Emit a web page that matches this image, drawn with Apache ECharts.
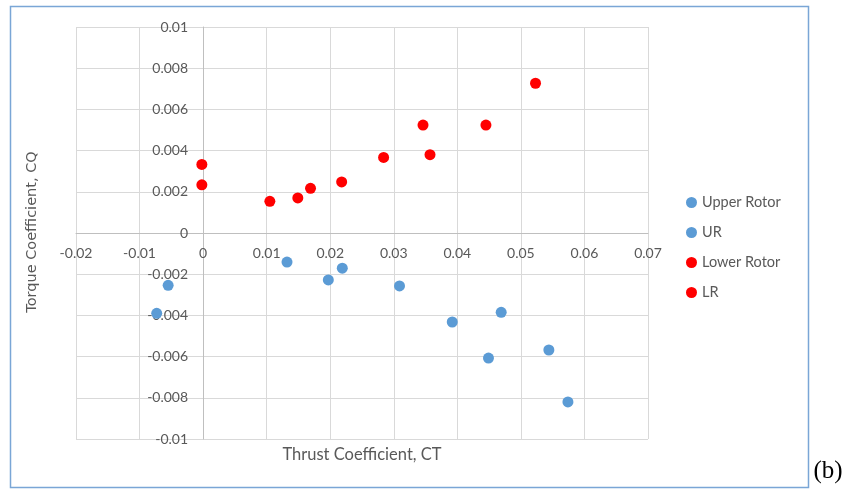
<!DOCTYPE html>
<html>
<head>
<meta charset="utf-8">
<script src="https://cdn.jsdelivr.net/npm/echarts@6/dist/echarts.min.js"></script>
<style>
html,body{margin:0;padding:0;background:#fff;}
#chart{width:849px;height:498px;}
</style>
</head>
<body>
<div id="chart"></div>
<script>
// Data
var seriesNames = ["Upper Rotor", "UR", "Lower Rotor", "LR"];
var upperRotorCT = [-0.0055, -0.0073, 0.0132, 0.0197, 0.0219, 0.0309, 0.0392, 0.0469, 0.0449, 0.0544, 0.0574];
var upperRotorCQ = [-0.00254, -0.0039, -0.00141, -0.00228, -0.00171, -0.00257, -0.00432, -0.00385, -0.00607, -0.00568, -0.0082];
var urCT = [];
var urCQ = [];
var lowerRotorCT = [-0.0002, -0.0002, 0.0105, 0.0149, 0.0169, 0.0218, 0.0284, 0.0346, 0.0357, 0.0445, 0.0523];
var lowerRotorCQ = [0.00333, 0.00234, 0.00154, 0.0017, 0.00217, 0.00248, 0.00367, 0.00524, 0.0038, 0.00524, 0.00727];
var lrCT = [];
var lrCQ = [];
var xTicks = [-0.02, -0.01, 0, 0.01, 0.02, 0.03, 0.04, 0.05, 0.06, 0.07];
var yTicks = [-0.01, -0.008, -0.006, -0.004, -0.002, 0, 0.002, 0.004, 0.006, 0.008, 0.01];

function pairs(xs, ys){ return xs.map(function(x,i){ return [x, ys[i]]; }); }
function fmt(v){ return String(Math.round(v*1000)/1000); }

var gridLeft = 76, gridRight = 201, gridTop = 27, gridBottom = 59;
var W = 849, H = 498;
var plotW = W - gridLeft - gridRight, plotH = H - gridTop - gridBottom;
var xMin = xTicks[0], xMax = xTicks[xTicks.length-1];
var yMin = yTicks[0], yMax = yTicks[yTicks.length-1];
// shift the axes so that they cross at zero (like the original)
var yAxisOffset = -plotW * (0 - xMin) / (xMax - xMin);
var xAxisOffset = -plotH * (0 - yMin) / (yMax - yMin);

var chart = echarts.init(document.getElementById('chart'), null, {renderer:'canvas'});
var labelFont = 'Lato, "Open Sans", sans-serif';
var blue = '#5b9bd5', red = '#ff0000';
function sc(name, data, color){
  return {name:name, type:'scatter', data:data, symbol:'circle', symbolSize:11,
    itemStyle:{color:color, opacity:1}, emphasis:{disabled:true}};
}
chart.setOption({
  animation:false,
  backgroundColor:'#ffffff',
  grid:{left:gridLeft, right:gridRight, top:gridTop, bottom:gridBottom},
  xAxis:{type:'value', min:xMin, max:xMax, interval:0.01, position:'bottom', offset:xAxisOffset,
    axisLine:{show:true, onZero:false, lineStyle:{color:'#bfbfbf', width:1}},
    axisTick:{show:false},
    splitLine:{show:true, lineStyle:{color:'#d9d9d9', width:1}},
    axisLabel:{color:'#595959', fontSize:14, fontFamily:labelFont, margin:13, formatter:fmt,
      showMinLabel:true, showMaxLabel:true}},
  yAxis:{type:'value', min:yMin, max:yMax, interval:0.002, position:'left', offset:yAxisOffset,
    axisLine:{show:true, onZero:false, lineStyle:{color:'#bfbfbf', width:1}},
    axisTick:{show:false},
    splitLine:{show:true, lineStyle:{color:'#d9d9d9', width:1}},
    axisLabel:{color:'#595959', fontSize:14, fontFamily:labelFont, margin:15, formatter:fmt,
      showMinLabel:true, showMaxLabel:true}},
  legend:{orient:'vertical', left:681, top:190, itemGap:15, itemWidth:11, itemHeight:11,
    icon:'circle', data:seriesNames,
    textStyle:{color:'#595959', fontSize:14.5, fontFamily:labelFont}},
  series:[
    sc(seriesNames[0], pairs(upperRotorCT, upperRotorCQ), blue),
    sc(seriesNames[1], pairs(urCT, urCQ), blue),
    sc(seriesNames[2], pairs(lowerRotorCT, lowerRotorCQ), red),
    sc(seriesNames[3], pairs(lrCT, lrCQ), red)
  ],
  graphic:[
    {type:'rect', shape:{x:10.5, y:6.5, width:798, height:481}, silent:true,
      style:{fill:null, stroke:'#7aa6d6', lineWidth:1.5}, z:-1},
    {type:'text', x:362, y:455, silent:true,
      style:{text:'Thrust Coefficient, CT', fill:'#595959', font:'16.5px Lato, "Open Sans", sans-serif',
        align:'center', verticalAlign:'middle'}},
    {type:'text', x:32, y:232, rotation:Math.PI/2, silent:true,
      style:{text:'Torque Coefficient, CQ', fill:'#595959', font:'14.5px "DejaVu Sans", Verdana, sans-serif',
        align:'center', verticalAlign:'middle'}},
    {type:'text', x:828, y:471, silent:true,
      style:{text:'(b)', fill:'#000000', font:'25px "Liberation Serif", "Times New Roman", serif',
        align:'center', verticalAlign:'middle'}}
  ]
});
</script>
</body>
</html>
